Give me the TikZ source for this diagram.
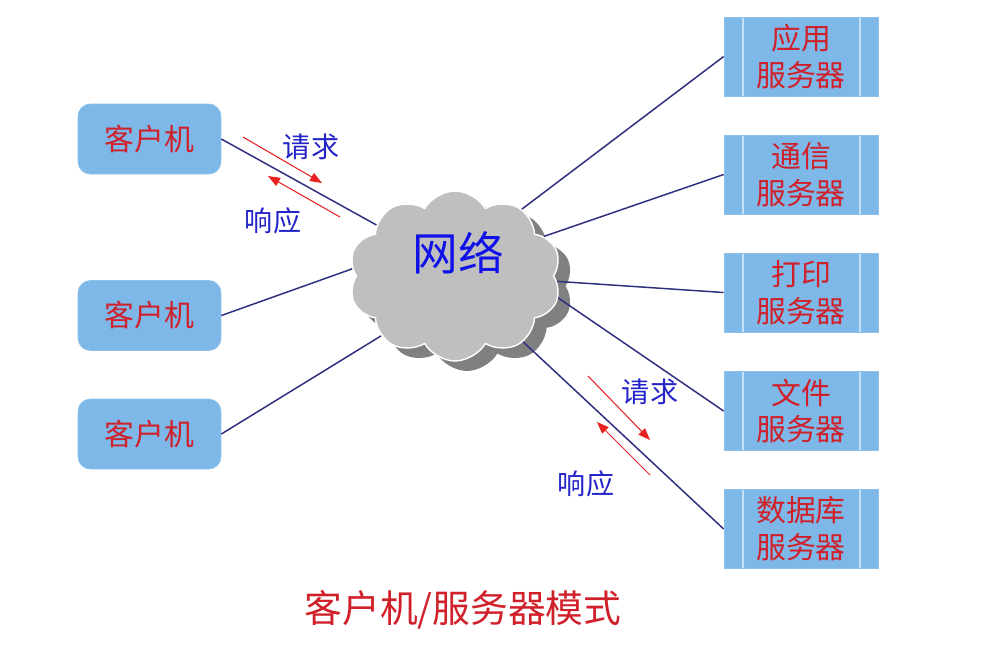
\documentclass[tikz,border=0pt]{standalone}
\usepackage{fontspec}
\newfontfamily\cjk{Noto Sans CJK SC}
\usetikzlibrary{arrows.meta,shapes.symbols,shadows}
\definecolor{boxblue}{HTML}{7DB8E8}
\definecolor{boxred}{HTML}{D0202A}
\definecolor{linkblue}{HTML}{303080}
\definecolor{labelblue}{HTML}{2424C8}
\definecolor{netblue}{HTML}{1010E8}
\definecolor{arrowred}{HTML}{E82020}
\tikzset{
    client/.style={rounded corners=7pt, fill=boxblue, draw=boxblue!85!white,
        minimum width=2.86cm, minimum height=1.4cm, text=boxred,
        font=\cjk\fontsize{17}{20}\selectfont},
    server/.style={fill=boxblue, draw=boxblue!85!white,
        minimum width=3.08cm, minimum height=1.58cm, text=boxred, align=center,
        font=\cjk\fontsize{17}{21}\selectfont,
        path picture={
            \draw[white!55!boxblue, line width=1pt]
                ([xshift=0.38cm]path picture bounding box.north west) --
                ([xshift=0.38cm]path picture bounding box.south west)
                ([xshift=-0.36cm]path picture bounding box.north east) --
                ([xshift=-0.36cm]path picture bounding box.south east);
        }},
    network/.style={cloud, cloud puffs=10, cloud puff arc=120, aspect=1.35,
        fill=black!25, draw=white, thick, minimum width=4.25cm, minimum height=3.4cm,
        drop shadow={shadow xshift=0.24cm, shadow yshift=-0.2cm, fill=black!50, opacity=1}},
    link/.style={draw=linkblue, line width=0.85pt},
    flow/.style={draw=arrowred, line width=0.6pt, -{Triangle[length=2.4mm, width=1.8mm]}},
    flowlabel/.style={text=labelblue, font=\cjk\fontsize{16}{18}\selectfont},
}
\begin{document}
\begin{tikzpicture}[x=0.02cm, y=-0.02cm]
    \useasboundingbox (0,0) rectangle (983,647);
    % network
    \node[network] (net) at (455,276) {};
    \node[text=netblue, font=\cjk\fontsize{26}{28}\selectfont] (nettext) at (458,253) {网络};
    % clients
    \node[client] (c1) at (149.5,139) {客户机};
    \node[client] (c2) at (149.5,315.5) {客户机};
    \node[client] (c3) at (149.5,434) {客户机};
    % servers
    \node[server] (s1) at (801,56.5)  {应用\\服务器};
    \node[server] (s2) at (801,174.5) {通信\\服务器};
    \node[server] (s3) at (801,292.5) {打印\\服务器};
    \node[server] (s4) at (801,411)   {文件\\服务器};
    \node[server] (s5) at (801,529)   {数据库\\服务器};
    % links
    \draw[link] (c1.east) -- (net.147);
    \draw[link] (c2.east) -- (net.176);
    \draw[link] (c3.east) -- (net.219);
    \draw[link] (s1.west) -- (net.45);
    \draw[link] (s2.west) -- (net.24);
    \draw[link] (s3.west) -- (net.-3);
    \draw[link] (s4.west) -- (net.-12);
    \draw[link] (s5.west) -- (net.-44);
    % request / response
    \coordinate (req1a) at (243,137);
    \coordinate (req1b) at (322,183);
    \coordinate (res1a) at (340,217);
    \coordinate (res1b) at (268,176);
    \coordinate (req2a) at (588,376);
    \coordinate (req2b) at (650,440);
    \coordinate (res2a) at (650,475);
    \coordinate (res2b) at (597,422);
    \draw[flow] (req1a) -- (req1b);
    \draw[flow] (res1a) -- (res1b);
    \draw[flow] (req2a) -- (req2b);
    \draw[flow] (res2a) -- (res2b);
    \node[flowlabel] (req1) at (311,147) {请求};
    \node[flowlabel] (res1) at (273,221) {响应};
    \node[flowlabel] (req2) at (650,392) {请求};
    \node[flowlabel] (res2) at (586,484) {响应};
    % title
    \node[text=boxred, font=\cjk\fontsize{21.5}{24}\selectfont] (title) at (463,610) {客户机/服务器模式};
\end{tikzpicture}
\end{document}
